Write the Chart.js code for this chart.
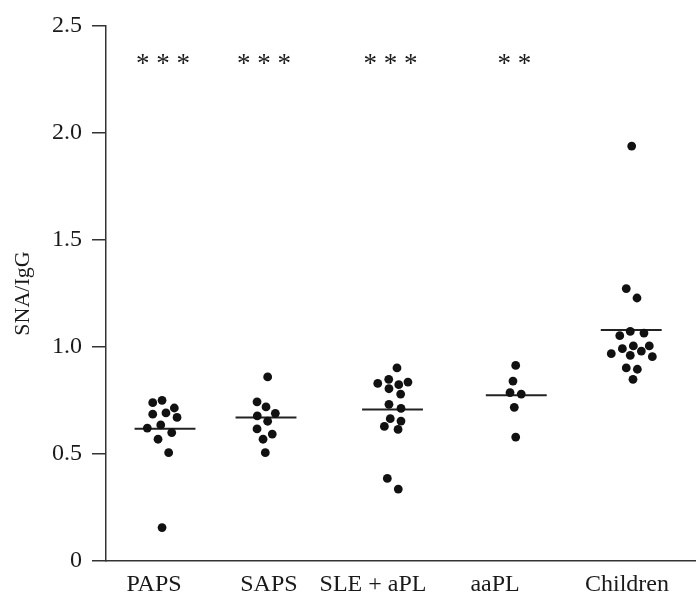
<!DOCTYPE html>
<html>
<head>
<meta charset="utf-8">
<script src="https://cdn.jsdelivr.net/npm/chart.js@4/dist/chart.umd.min.js"></script>
<style>
html,body{margin:0;padding:0;background:#fff;}
#wrap{width:696px;height:595px;position:relative;}
</style>
</head>
<body>
<div id="wrap"><canvas id="c" width="696" height="595"></canvas></div>
<script>
// ---- data ----
const categories = ['PAPS', 'SAPS', 'SLE + aPL', 'aaPL', 'Children'];
const groupCenters = [0.50, 1.356, 2.428, 3.477, 4.451];   // x position of each group's dots
const labelPositions = [0.407, 1.381, 2.263, 3.297, 4.415]; // x position of each category label
const significance = ['***', '***', '***', '**', ''];

const papsValues   = [0.740, 0.751, 0.715, 0.686, 0.692, 0.671, 0.621, 0.636, 0.600, 0.569, 0.506, 0.156];
const papsJitter   = [-0.104, -0.025, 0.079, -0.104, 0.008, 0.102, -0.150, -0.036, 0.057, -0.059, 0.031, -0.025];
const sapsValues   = [0.860, 0.744, 0.720, 0.690, 0.678, 0.653, 0.617, 0.593, 0.569, 0.506];
const sapsJitter   = [0.014, -0.076, 0.000, 0.079, -0.074, 0.014, -0.076, 0.053, -0.025, -0.006];
const sleValues    = [0.902, 0.830, 0.849, 0.824, 0.836, 0.805, 0.780, 0.732, 0.713, 0.665, 0.654, 0.629, 0.615, 0.386, 0.336];
const sleJitter    = [0.038, -0.125, -0.032, 0.053, 0.131, -0.030, 0.069, -0.030, 0.072, -0.019, 0.072, -0.069, 0.047, -0.044, 0.049];
const aaplValues   = [0.914, 0.841, 0.787, 0.780, 0.718, 0.579];
const aaplJitter   = [-0.005, -0.028, -0.053, 0.042, -0.017, -0.005];
const childValues  = [1.939, 1.273, 1.229, 1.073, 1.065, 1.053, 1.005, 1.005, 0.992, 0.981, 0.969, 0.961, 0.955, 0.902, 0.896, 0.849];
const childJitter  = [0.004, -0.042, 0.049, -0.008, 0.108, -0.097, 0.018, 0.153, -0.075, 0.086, -0.169, -0.008, 0.179, -0.042, 0.052, 0.015];

const groupMeans = [0.618, 0.671, 0.708, 0.774, 1.079];
const yTicks = [0, 0.5, 1.0, 1.5, 2.0, 2.5];
const starLevel = 2.34;

// ---- build datasets ----
const groupValues = [papsValues, sapsValues, sleValues, aaplValues, childValues];
const groupJitter = [papsJitter, sapsJitter, sleJitter, aaplJitter, childJitter];
const meanHalfWidth = 0.258;
const ink = '#111';

const datasets = [];
groupValues.forEach((vals, g) => {
  datasets.push({
    type: 'scatter',
    data: vals.map((v, i) => ({x: groupCenters[g] + groupJitter[g][i], y: v})),
    pointRadius: 4.4,
    pointHoverRadius: 4.4,
    pointBackgroundColor: ink,
    pointBorderColor: ink,
    pointBorderWidth: 0,
    showLine: false
  });
});
groupMeans.forEach((m, g) => {
  datasets.push({
    type: 'line',
    data: [{x: groupCenters[g] - meanHalfWidth, y: m}, {x: groupCenters[g] + meanHalfWidth, y: m}],
    borderColor: '#222',
    borderWidth: 2,
    pointRadius: 0,
    fill: false
  });
});

const starPlugin = {
  id: 'stars',
  afterDatasetsDraw(chart) {
    const {ctx, scales: {x, y}} = chart;
    ctx.save();
    ctx.fillStyle = '#1a1a1a';
    ctx.font = '27px "Liberation Serif", serif';
    ctx.textAlign = 'center';
    ctx.textBaseline = 'middle';
    significance.forEach((s, g) => {
      if (!s) return;
      const txt = s.split('').join(' ');
      ctx.fillText(txt, x.getPixelForValue(groupCenters[g]) - 2, y.getPixelForValue(starLevel) + 5);
    });
    ctx.restore();
  }
};

const serif = '"Liberation Serif", "Times New Roman", serif';

new Chart(document.getElementById('c'), {
  data: {datasets},
  options: {
    responsive: false,
    animation: false,
    events: [],
    layout: {autoPadding: false, padding: {top: 26, right: 0, left: 0, bottom: 0}},
    plugins: {legend: {display: false}, tooltip: {enabled: false}},
    scales: {
      x: {
        type: 'linear',
        min: 0, max: 5,
        grid: {display: false},
        border: {display: true, color: '#333', width: 1.5},
        afterBuildTicks(scale) { scale.ticks = labelPositions.map(v => ({value: v})); },
        afterFit(scale) { scale.height = 34; scale.paddingLeft = 0; scale.paddingRight = 0; },
        ticks: {
          autoSkip: false,
          maxRotation: 0,
          padding: 1,
          color: '#1a1a1a',
          font: {family: serif, size: 24},
          callback(value) {
            const i = labelPositions.indexOf(value);
            return i >= 0 ? categories[i] : '';
          }
        }
      },
      y: {
        type: 'linear',
        min: 0, max: 2.5,
        afterBuildTicks(scale) { scale.ticks = yTicks.map(v => ({value: v})); },
        afterFit(scale) { scale.width = 106; },
        grid: {drawOnChartArea: false, drawTicks: true, tickLength: 14, color: '#333', lineWidth: 1.5},
        border: {display: true, color: '#333', width: 1.5},
        ticks: {
          padding: 10,
          color: '#1a1a1a',
          font: {family: serif, size: 24},
          callback(v) { return v === 0 ? '0' : v.toFixed(1); }
        },
        title: {
          display: true,
          text: 'SNA/IgG',
          color: '#1a1a1a',
          font: {family: serif, size: 22},
          padding: {top: 10, bottom: 0}
        }
      }
    }
  },
  plugins: [starPlugin]
});
</script>
</body>
</html>
